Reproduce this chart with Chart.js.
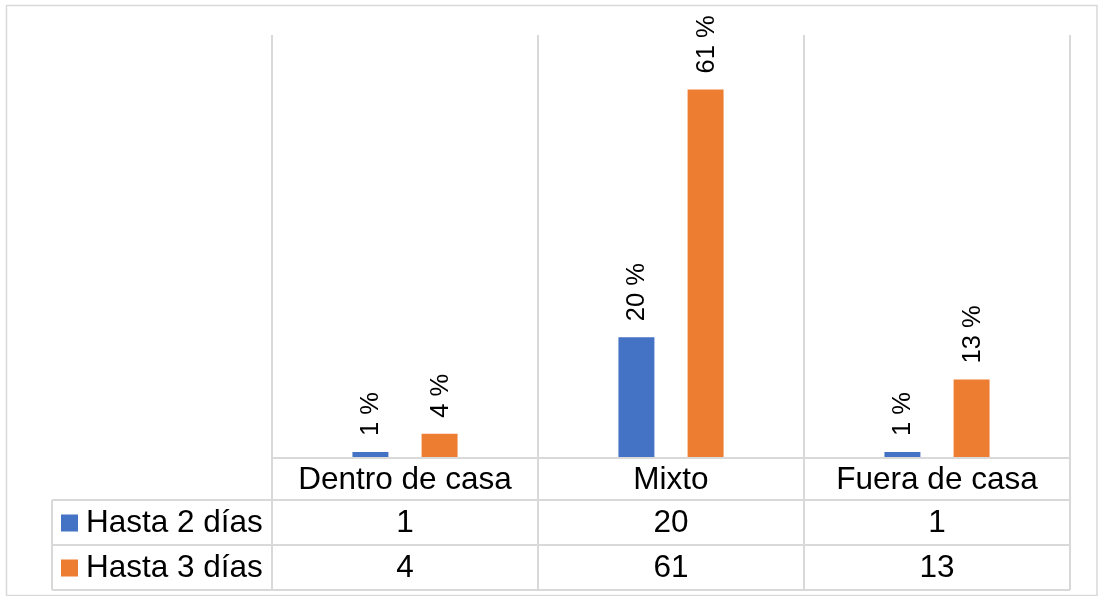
<!DOCTYPE html>
<html>
<head>
<meta charset="utf-8">
<script src="https://cdn.jsdelivr.net/npm/chart.js@4"></script>
<style>
html,body{margin:0;padding:0;background:#fff;}
#wrap{width:1099px;height:596px;position:relative;}
</style>
</head>
<body>
<div id="wrap"><canvas id="c" width="1099" height="596"></canvas></div>
<script>
const categories = ["Dentro de casa", "Mixto", "Fuera de casa"];
const seriesNames = ["Hasta 2 días", "Hasta 3 días"];
const hasta2 = [1, 20, 1];
const hasta3 = [4, 61, 13];
const colors = ["#4472C4", "#ED7D31"];

const FONT = "'Liberation Sans', Arial, sans-serif";
const GRID = "#d9d9d9";

const tablePlugin = {
  id: 'tablePlugin',
  afterDraw(chart) {
    const ctx = chart.ctx;
    const xs = chart.scales.x;
    const ca = chart.chartArea;
    const n = categories.length;
    const half = (xs.getPixelForValue(1) - xs.getPixelForValue(0)) / 2;
    const bounds = [];
    for (let i = 0; i < n; i++) bounds.push(xs.getPixelForValue(i) - half);
    bounds.push(xs.getPixelForValue(n - 1) + half);
    const rowTop = ca.bottom;
    const rowH = [42, 45, 45];
    const rows = [rowTop];
    rowH.forEach(h => rows.push(rows[rows.length - 1] + h));
    const legLeft = 52;

    ctx.save();
    ctx.strokeStyle = GRID;
    ctx.lineWidth = 1.5;
    ctx.strokeRect(6.5, 5.5, 1090.5, 590);
    ctx.lineWidth = 2;
    bounds.forEach(x => {
      ctx.beginPath(); ctx.moveTo(x, ca.top); ctx.lineTo(x, rows[3]); ctx.stroke();
    });
    ctx.beginPath(); ctx.moveTo(legLeft, rows[1]); ctx.lineTo(legLeft, rows[3]); ctx.stroke();
    ctx.beginPath(); ctx.moveTo(bounds[0], rows[0]); ctx.lineTo(bounds[n], rows[0]); ctx.stroke();
    for (let r = 1; r <= 3; r++) {
      ctx.beginPath(); ctx.moveTo(legLeft, rows[r]); ctx.lineTo(bounds[n], rows[r]); ctx.stroke();
    }
    ctx.fillStyle = "#000";
    ctx.font = "31.5px " + FONT;
    ctx.textAlign = "center";
    ctx.textBaseline = "middle";
    const series = [hasta2, hasta3];
    for (let i = 0; i < n; i++) {
      const cx = (bounds[i] + bounds[i + 1]) / 2;
      ctx.fillText(categories[i], cx, (rows[0] + rows[1]) / 2 + 1);
      for (let s = 0; s < 2; s++) {
        ctx.fillText(String(series[s][i]), cx, (rows[s + 1] + rows[s + 2]) / 2 + 1);
      }
    }
    ctx.textAlign = "left";
    for (let s = 0; s < 2; s++) {
      const cy = (rows[s + 1] + rows[s + 2]) / 2;
      ctx.fillStyle = colors[s];
      ctx.fillRect(61, cy - 8, 17, 17);
      ctx.fillStyle = "#000";
      ctx.fillText(seriesNames[s], 86, cy + 1);
    }
    ctx.font = "25.5px " + FONT;
    ctx.textAlign = "left";
    ctx.textBaseline = "middle";
    chart.data.datasets.forEach((ds, di) => {
      const meta = chart.getDatasetMeta(di);
      meta.data.forEach((bar, i) => {
        ctx.save();
        ctx.translate(bar.x + 1, bar.y - 16);
        ctx.rotate(-Math.PI / 2);
        ctx.fillText(ds.data[i] + " %", 0, 0);
        ctx.restore();
      });
    });
    ctx.restore();
  }
};

new Chart(document.getElementById('c'), {
  type: 'bar',
  data: {
    labels: categories,
    datasets: [
      { label: seriesNames[0], data: hasta2, backgroundColor: colors[0], barPercentage: 0.52, categoryPercentage: 0.52 },
      { label: seriesNames[1], data: hasta3, backgroundColor: colors[1], barPercentage: 0.52, categoryPercentage: 0.52 }
    ]
  },
  options: {
    responsive: false,
    animation: false,
    devicePixelRatio: 1,
    layout: { padding: { left: 272, right: 29, top: 35, bottom: 138 } },
    plugins: { legend: { display: false }, tooltip: { enabled: false } },
    scales: {
      x: { display: false },
      y: { display: false, min: 0, max: 70 }
    }
  },
  plugins: [tablePlugin]
});
</script>
</body>
</html>
